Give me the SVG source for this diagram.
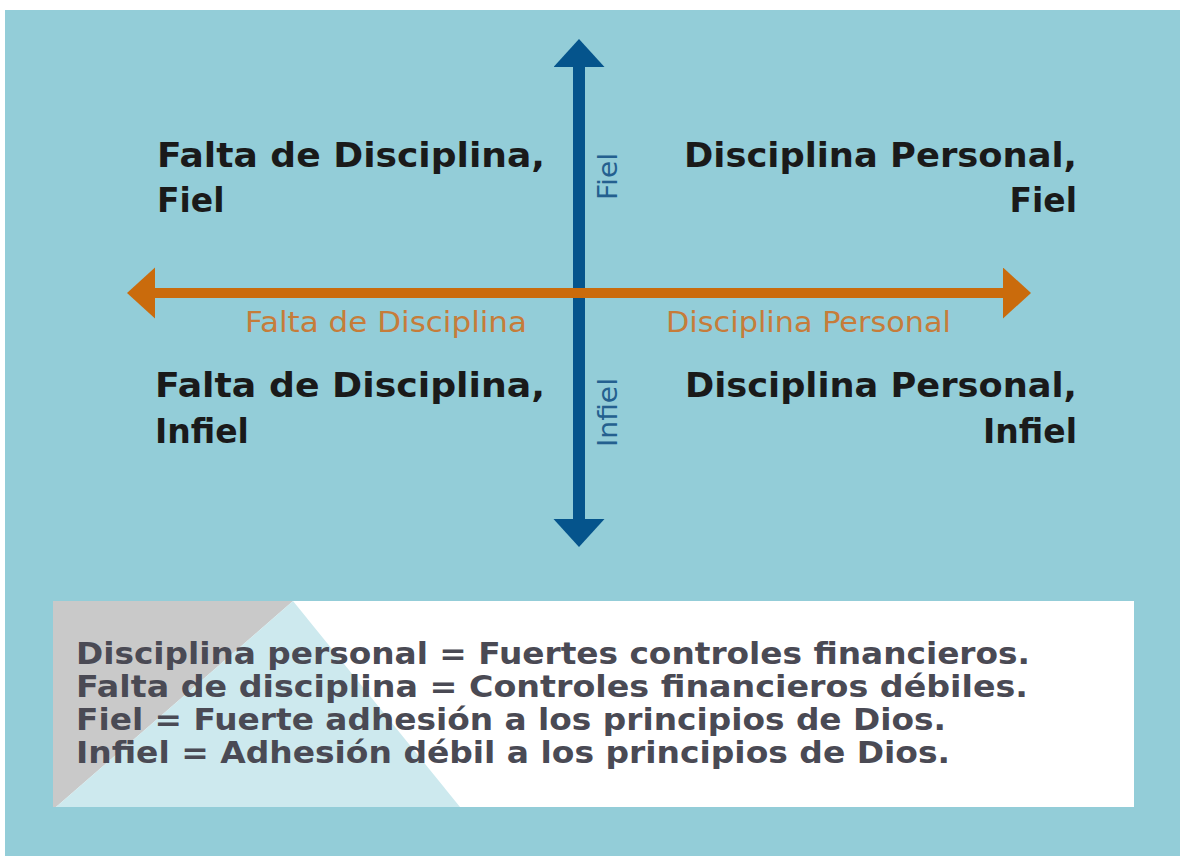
<svg xmlns="http://www.w3.org/2000/svg" width="1180" height="856" viewBox="0 0 1180 856">
  <style>
    .quad { font-family: "DejaVu Sans", "Liberation Sans", sans-serif; font-weight: bold; font-size: 33px; fill: #1a1a1a; }
    .haxis { font-family: "DejaVu Sans", "Liberation Sans", sans-serif; font-size: 28px; fill: #C67C3A; }
    .vaxis { font-family: "DejaVu Sans", "Liberation Sans", sans-serif; font-size: 26px; fill: #24608F; }
    .legend { font-family: "DejaVu Sans", "Liberation Sans", sans-serif; font-weight: bold; font-size: 30px; fill: #4a4a54; }
  </style>
  <defs>
    <marker id="headBlue" markerUnits="userSpaceOnUse" markerWidth="29" markerHeight="52" refX="0" refY="25.5" orient="auto-start-reverse" viewBox="0 0 29 52">
      <path d="M0,0 L28,25.5 L0,51 Z" fill="#05548C"/>
    </marker>
    <marker id="headOrange" markerUnits="userSpaceOnUse" markerWidth="29" markerHeight="52" refX="0" refY="25.5" orient="auto-start-reverse" viewBox="0 0 29 52">
      <path d="M0,0 L28,25.5 L0,51 Z" fill="#CA6B0C"/>
    </marker>
  </defs>

  <rect x="0" y="0" width="1180" height="856" fill="#ffffff"/>
  <rect x="5" y="10" width="1175" height="846" fill="#93CDD8"/>

  <g id="connectors">
    <line x1="579" y1="67" x2="579" y2="519" stroke="#05548C" stroke-width="12" marker-start="url(#headBlue)" marker-end="url(#headBlue)"/>
    <line x1="155" y1="293" x2="1003" y2="293" stroke="#CA6B0C" stroke-width="10" marker-start="url(#headOrange)" marker-end="url(#headOrange)"/>
  </g>

  <g id="quad-top-left">
    <text class="quad" x="157" y="167" textLength="388" lengthAdjust="spacingAndGlyphs">Falta de Disciplina,</text>
    <text class="quad" x="157" y="212">Fiel</text>
  </g>
  <g id="quad-top-right">
    <text class="quad" x="1077" y="167" text-anchor="end" textLength="393" lengthAdjust="spacingAndGlyphs">Disciplina Personal,</text>
    <text class="quad" x="1077" y="212" text-anchor="end">Fiel</text>
  </g>
  <g id="quad-bottom-left">
    <text class="quad" x="155" y="397" textLength="390" lengthAdjust="spacingAndGlyphs">Falta de Disciplina,</text>
    <text class="quad" x="155" y="443">Infiel</text>
  </g>
  <g id="quad-bottom-right">
    <text class="quad" x="1077" y="397" text-anchor="end" textLength="392" lengthAdjust="spacingAndGlyphs">Disciplina Personal,</text>
    <text class="quad" x="1077" y="443" text-anchor="end">Infiel</text>
  </g>

  <g id="label-falta">
    <text class="haxis" x="245" y="332" textLength="282" lengthAdjust="spacingAndGlyphs">Falta de Disciplina</text>
  </g>
  <g id="label-personal">
    <text class="haxis" x="666" y="332" textLength="285" lengthAdjust="spacingAndGlyphs">Disciplina Personal</text>
  </g>
  <g id="label-fiel">
    <text class="vaxis" transform="translate(617,200) rotate(-90)" x="0" y="0" textLength="47" lengthAdjust="spacingAndGlyphs">Fiel</text>
  </g>
  <g id="label-infiel">
    <text class="vaxis" transform="translate(617,447) rotate(-90)" x="0" y="0" textLength="69" lengthAdjust="spacingAndGlyphs">Infiel</text>
  </g>

  <g id="legend">
    <rect x="53" y="601" width="1081" height="206" fill="#ffffff"/>
    <polygon points="53,601 293,601 56,807 53,807" fill="#C9C9C9"/>
    <polygon points="293,601 460,807 56,807" fill="#CDE9EE"/>
    <text class="legend" x="76" y="664" textLength="954" lengthAdjust="spacingAndGlyphs">Disciplina personal = Fuertes controles financieros.</text>
    <text class="legend" x="76" y="697" textLength="952" lengthAdjust="spacingAndGlyphs">Falta de disciplina = Controles financieros débiles.</text>
    <text class="legend" x="76" y="730" textLength="870" lengthAdjust="spacingAndGlyphs">Fiel = Fuerte adhesión a los principios de Dios.</text>
    <text class="legend" x="76" y="763" textLength="874" lengthAdjust="spacingAndGlyphs">Infiel = Adhesión débil a los principios de Dios.</text>
  </g>
</svg>
